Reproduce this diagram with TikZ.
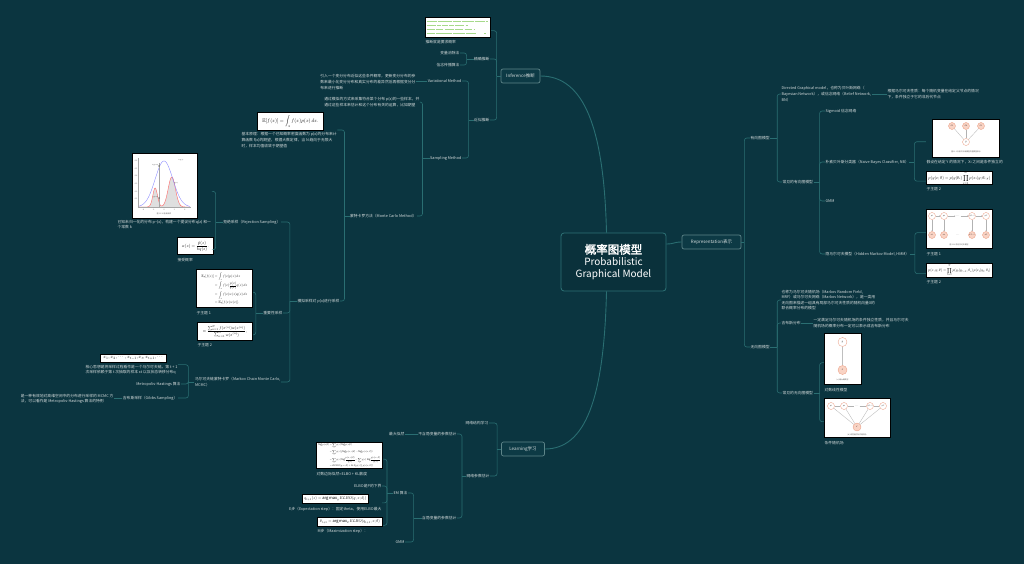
\documentclass[tikz,border=0pt]{standalone}
\usepackage{amsmath,amssymb}
\usepackage{graphicx}
\usepackage{fontspec}
\setmainfont{Noto Sans CJK SC}
\newfontfamily\rootfont{Noto Sans CJK SC}[FakeBold=2.2]
\XeTeXlinebreaklocale "zh"
\XeTeXlinebreakskip = 0pt plus 1pt
\usetikzlibrary{fit,arrows.meta}
\definecolor{bg}{HTML}{0B3540}
\definecolor{lnkc}{HTML}{2A6E72}
\definecolor{txt}{HTML}{D5DCDC}
\definecolor{brd}{HTML}{5E8589}
\definecolor{brfill}{HTML}{0D3A45}
\definecolor{rootbrd}{HTML}{2E7276}
\definecolor{rootfill}{HTML}{0A313B}
\definecolor{salm}{HTML}{E9967A}
\definecolor{salmf}{HTML}{F9D3C4}
\definecolor{codeg}{HTML}{A6D98A}
\tikzset{
 lbl/.style={text=txt, font=\fontsize{3.8pt}{5.6pt}\selectfont, inner sep=0.4pt},
 ml/.style={lbl, align=left},
 lnk/.style={draw=lnkc, line width=0.6pt},
 mainlnk/.style={draw=lnkc, line width=0.9pt},
 brbox/.style={draw=brd, fill=brfill, rounded corners=2pt, line width=0.7pt, text=txt,
   font=\fontsize{4.5pt}{5pt}\selectfont, minimum height=14pt, inner sep=1pt},
 rootbox/.style={draw=rootbrd, fill=rootfill, rounded corners=3pt, line width=0.8pt, text=white,
   align=center, minimum width=105pt, minimum height=58pt, inner sep=2pt},
 fbx/.style={draw=black, fill=white, line width=0.9pt, inner sep=0pt, anchor=north west},
 imgbx/.style={fbx},
 wrapbox/.style={inner sep=0pt},
 obs/.style={circle, draw=salm, fill=salmf, line width=0.3pt, inner sep=0pt, minimum size=7pt},
 hid/.style={obs, fill=white},
 edg/.style={draw=gray!60, line width=0.3pt},
 arr/.style={edg, -{Stealth[length=1.2pt,width=1pt]}},
 tinycap/.style={inner sep=0pt, text=gray!70!black, font=\fontsize{1.8pt}{2pt}\selectfont},
}
\newcommand\brL[3]{%
  \draw[lnk] (#1.west) -- ++(-#2,0) coordinate (#1-br);
  \foreach \ch in {#3}{\draw[lnk, rounded corners=2.5pt] (#1-br) |- (\ch.east);}}
\newcommand\brR[3]{%
  \draw[lnk] (#1.east) -- ++(#2,0) coordinate (#1-br);
  \foreach \ch in {#3}{\draw[lnk, rounded corners=2.5pt] (#1-br) |- (\ch.west);}}
\begin{document}
\begin{tikzpicture}[x=1pt,y=-1pt]
\useasboundingbox (0,0) rectangle (1024,564);
\fill[bg] (0,0) rectangle (1024,564);

% ---------- root and main branches
\node[rootbox] (root) at (613.5,262) {\fontsize{11.5pt}{15.5pt}\rootfont 概率图模型\\Probabilistic\\Graphical Model};
\node[brbox, minimum width=39pt] (inf) at (520.5,76) {Inference推断};
\node[brbox, minimum width=59pt] (repr) at (711.5,242) {Representation表示};
\node[brbox, minimum width=43pt] (learn) at (523,449) {Learning学习};
\draw[mainlnk] ([xshift=-7pt]root.north) .. controls (604,130) and (585,76) .. (inf.east);
\draw[mainlnk] ([yshift=18pt]root.east) .. controls (674,244) and (674,242) .. (repr.west);
\draw[mainlnk] ([xshift=-7pt]root.south) .. controls (604,400) and (585,449) .. (learn.east);

% ---------- Inference subtree
\node[imgbx, minimum width=65pt, minimum height=20pt] (infimg) at (425,17) {};
\begin{scope}[codeg, line width=0.8pt]
 \draw[dash pattern=on 10pt off 1pt on 14pt off 1.2pt on 8pt off 1pt on 12pt off 1pt] (426.5,21) -- (488,21);
 \draw[dash pattern=on 9pt off 1.5pt on 4pt off 1pt on 6pt off 1pt on 5pt off 1pt] (426.5,25.3) -- (468,25.3);
 \draw[dash pattern=on 8pt off 1.5pt on 7pt off 2pt on 9pt off 1pt] (426.5,29.3) -- (475,29.3);
 \draw[dash pattern=on 8pt off 1.5pt on 16pt off 1pt on 12pt off 1pt on 10pt] (426.5,33.3) -- (488,33.3);
\end{scope}
\node[lbl, anchor=west] (infcap) at (425,42) {推断就是要求概率};
\node[wrapbox, fit=(infimg)(infcap)] (infw) {};
\node[lbl, anchor=east] (exact) at (490,59) {精确推断};
\node[lbl, anchor=east] (approx) at (490,120) {近似推断};
\node[lbl, anchor=east] (ve) at (460,53) {变量消除法};
\node[lbl, anchor=east] (bp) at (460,65) {信念传播算法};
\node[lbl, anchor=east] (vm) at (462,81) {Variational Method};
\node[lbl, anchor=east] (sm) at (462,158) {Sampling Method};
\node[ml, anchor=east] (vmtext) at (416,82) {引入一个变分分布近似这些条件概率，更新变分分布的参\\数来最小化变分分布和真实分布的差异然后再根据变分分\\布来进行推断};
\node[ml, anchor=east] (smtext) at (420,102) {通过模拟的方式来采集符合某个分布 p(x)的一些样本，并\\通过这些样本来估计和这个分布有关的运算，比如期望};
\node[lbl, anchor=east] (mc) at (417,216) {蒙特卡罗方法（Monte Carlo Method）};
\node[fbx, minimum width=66pt, minimum height=18pt] (mcf) at (257,112) {\resizebox{56pt}{!}{$\mathbb{E}[f(x)] = \displaystyle\int_x f(x)p(x)\,dx.$}};
\node[ml, anchor=north west] (mctext) at (241,132) {基本原理：根据一个已知概率密度函数为 p(x)的分布来计\\算函数 f(x)的期望，根据大数定律，当 N 趋向于无限大\\时，样本均值收敛于期望值};
\node[wrapbox, fit=(mcf)(mctext)] (mcw) {};
\node[lbl, anchor=east] (mcs) at (340,301) {模拟采样对 p(x)进行采样};
\node[lbl, anchor=east] (rej) at (281,222) {拒绝采样（Rejection Sampling）};
\node[lbl, anchor=east] (imp) at (283,313) {重要性采样};
\node[ml, anchor=east] (mcmc) at (281,382) {马尔可夫链蒙特卡罗（Markov Chain Monte Carlo,\\MCMC）};

% rejection sampling figure
\node[imgbx, minimum width=65pt, minimum height=65pt] (rejimg) at (132,153) {};
\fill[gray!25] (138,207) -- plot[domain=-5:5, samples=80] ({164+5.2*\x}, {207-19*exp(-((\x+1.7)*(\x+1.7))/0.405)-30*exp(-((\x-1.5)*(\x-1.5))/0.98)}) -- (190,207) -- cycle;
\draw[red!60, line width=0.4pt] plot[domain=-5:5, samples=80] ({164+5.2*\x}, {207-19*exp(-((\x+1.7)*(\x+1.7))/0.405)-30*exp(-((\x-1.5)*(\x-1.5))/0.98)});
\draw[blue!45, line width=0.4pt] plot[domain=-5:5, samples=60] ({164+5.2*\x}, {207-46*exp(-(\x*\x)/5.78)});
\draw[gray!70, line width=0.2pt] (138,158) -- (138,207) -- (191,207);
\foreach \z in {-4,-2,0,2,4} {\node[tinycap] at ({164+5.2*\z},209.5) {\z};}
\foreach \k in {1,...,6} {\node[tinycap, anchor=east] at (137.5,{207-7.7*\k}) {0.\k};}
\draw[gray!70, line width=0.2pt] (159,163) -- (159,207);
\fill[black] (159,166) circle (0.6pt);
\fill[black] (159,198) circle (0.6pt);
\node[tinycap, anchor=east, text=black] at (158.5,165) {\scalebox{0.3}{$kq(z_0)$}};
\node[tinycap, anchor=east, text=black] at (158.5,197) {\scalebox{0.3}{$\tilde p(z_0)$}};
\node[tinycap, text=black] at (181,160) {\scalebox{0.3}{$kq(z)$}};
\node[tinycap, text=black] at (176,183) {\scalebox{0.3}{$\tilde p(z)$}};
\node[tinycap] at (164,214) {图 11.10 拒绝采样};
\node[ml, anchor=north west] (rejcap) at (117,219.5) {已知未归一化的分布 p\textasciitilde(x)，构建一个提议分布q(z) 和一\\个常数 k};
\node[wrapbox, fit=(rejimg)(rejcap)] (rejw) {};
\node[fbx, minimum width=36pt, minimum height=17pt] (rejf) at (177,237) {\resizebox{27pt}{!}{$\alpha(z) = \dfrac{\tilde p(z)}{kq(z)}.$}};
\node[lbl, anchor=west] (rejfcap) at (177,260) {接受概率};
\node[wrapbox, fit=(rejf)(rejfcap)] (rejfw) {};

% importance sampling
\node[fbx, minimum width=56pt, minimum height=38pt] (imp1) at (196,269) {\resizebox{46pt}{!}{$\begin{aligned}\mathbb{E}_p[f(x)] &= \int_z f(x)p(x)\,dx\\ &= \int_z f(x)\frac{p(x)}{q(x)}q(x)\,dx\\ &= \int_z f(x)w(x)q(x)\,dx\\ &= \mathbb{E}_q[f(x)w(x)].\end{aligned}$}};
\node[lbl, anchor=west] (imp1cap) at (196,313) {子主题 1};
\node[wrapbox, fit=(imp1)(imp1cap)] (imp1w) {};
\node[fbx, minimum width=55pt, minimum height=18pt] (imp2) at (197,322) {\resizebox{44pt}{!}{$\approx \dfrac{\sum_{n=1}^{N} f(x^{(n)})w(x^{(n)})}{\sum_{n=1}^{N} w(x^{(n)})},$}};
\node[lbl, anchor=west] (imp2cap) at (197,345.5) {子主题 2};
\node[wrapbox, fit=(imp2)(imp2cap)] (imp2w) {};

% MCMC
\node[fbx, minimum width=66pt, minimum height=8pt] (mhimg) at (100,354) {\resizebox{60pt}{!}{$x_1, x_2, \cdots, x_{t-1}, x_t, x_{t+1}, \cdots$}};
\node[ml, anchor=north west] (mhtext) at (85,364.5) {核心思想是将采样过程看作是一个马尔可夫链。第 t + 1\\次采样依赖于第 t 次抽取的样本 xt 以及状态转移分布q};
\node[wrapbox, fit=(mhimg)(mhtext)] (mhw) {};
\node[lbl, anchor=east] (mh) at (181,384) {Metropolis-Hastings 算法};
\node[lbl, anchor=east] (gibbs) at (178,398) {吉布斯采样（Gibbs Sampling）};
\node[ml, anchor=east] (gibbstext) at (114,399) {是一种有效地对高维空间中的分布进行采样的 MCMC 方\\法，可以看作是 Metropolis-Hastings 算法的特例};

\brL{inf}{4}{infw,exact,approx}
\brL{exact}{7}{ve,bp}
\brL{approx}{5}{vm,sm}
\draw[lnk] (vm.west) -- (vm.west -| vmtext.east);
\brL{sm}{7}{smtext,mc}
\brL{mc}{5}{mcw,mcs}
\brL{mcs}{7}{rej,imp,mcmc}
\brL{rej}{7}{rejw,rejfw}
\brL{imp}{7}{imp1w,imp2w}
\brL{mcmc}{6}{mhw,mh,gibbs}
\draw[lnk] (gibbs.west) -- (gibbs.west -| gibbstext.east);

% ---------- Learning subtree
\node[lbl, anchor=east] (nsl) at (489,423) {网络结构学习};
\node[lbl, anchor=east] (npe) at (490,476) {网络参数估计};
\node[lbl, anchor=east] (nolat) at (457,434) {不含隐变量的参数估计};
\node[lbl, anchor=east] (lat) at (457,518) {含隐变量的参数估计};
\node[lbl, anchor=east] (mle) at (405,434) {最大似然};
\node[lbl, anchor=east] (em) at (408,493) {EM 算法};
\node[lbl, anchor=east] (gmmb) at (405,542) {GMM};
\node[fbx, minimum width=66pt, minimum height=26pt] (elbo) at (316,442) {\resizebox{62pt}{!}{$\begin{aligned}\log p(x|\theta) &= \sum_z q(z)\log p(x|\theta)\\ &= \sum_z q(z)\big(\log p(x,z|\theta)-\log p(z|x,\theta)\big)\\ &= \sum_z q(z)\log\frac{p(x,z|\theta)}{q(z)} - \sum_z q(z)\log\frac{p(z|x,\theta)}{q(z)}\\ &= ELBO(q,x;\theta) + KL\big(q(z)\,\|\,p(z|x,\theta)\big)\end{aligned}$}};
\node[lbl, anchor=west] (elbocap) at (316,474) {对数边际似然=ELBO + KL散度};
\node[wrapbox, fit=(elbo)(elbocap)] (elbow) {};
\node[lbl, anchor=east] (elbolb) at (382,486) {ELBO是P的下界};
\node[fbx, minimum width=66pt, minimum height=9pt] (estep) at (302,494) {\resizebox{62pt}{!}{$q_{t+1}(z) = \arg\max_q ELBO(q, x; \theta_t)$}};
\node[lbl, anchor=east] (estepcap) at (382,509) {E步（Expectation step）：固定theta，使用ELBO最大};
\node[wrapbox, fit=(estep)(estepcap)] (estepw) {};
\node[fbx, minimum width=65pt, minimum height=9pt] (mstep) at (317,517) {\resizebox{60pt}{!}{$\theta_{t+1} = \arg\max_\theta ELBO(q_{t+1}, x; \theta)$}};
\node[lbl, anchor=west] (mstepcap) at (317,531) {M步（Maximization step）：};
\node[wrapbox, fit=(mstep)(mstepcap)] (mstepw) {};

\brL{learn}{4}{nsl,npe}
\brL{npe}{4}{nolat,lat}
\draw[lnk] (nolat.west) -- (mle.east);
\brL{lat}{8}{em,gmmb}
\brL{em}{6}{elbow,elbolb,estepw,mstepw}

% ---------- Representation subtree
\node[lbl, anchor=west] (dg) at (750,138) {有向图模型};
\node[lbl, anchor=west] (ug) at (750,347) {无向图模型};
\node[ml, anchor=west] (dgdef) at (781,94) {Directed Graphical model，也称为贝叶斯网络（\\Bayesian Network），或信念网络（Belief Network,\\BN）};
\node[ml, anchor=west] (dgchild) at (887,94) {根据马尔可夫性质：每个随机变量在给定父节点的情况\\下，条件独立于它的非后代节点};
\node[lbl, anchor=west] (dgc) at (782,182) {常见的有向图模型};
\node[lbl, anchor=west] (sig) at (825,111) {Sigmoid 信念网络};
\node[lbl, anchor=west] (nb) at (825,162) {朴素贝叶斯分类器（Naive Bayes Classifier, NB）};
\node[lbl, anchor=west] (gmm) at (825,201) {GMM};
\node[lbl, anchor=west] (hmm) at (825,254) {隐马尔可夫模型（Hidden Markov Model, HMM）};

% naive bayes figure
\node[imgbx, minimum width=67pt, minimum height=38pt] (nbimg) at (932,119) {};
\node[hid] (nby) at (966,142) {\scalebox{0.3}{$y$}};
\foreach \i/\xx in {1/952,2/966,3/981} {
  \node[obs] (nbx\i) at (\xx,126) {\scalebox{0.3}{$x_\i$}};
  \draw[edg] (nby) -- (nbx\i);
}
\node[tinycap] at (966,152) {图 11.1 朴素贝叶斯模型的图模型表示};
\node[lbl, anchor=west] (nbcap) at (926,162) {假设在给定 Y 的情况下，Xi 之间是条件独立的};
\node[wrapbox, fit=(nbimg)(nbcap)] (nbw) {};
\node[fbx, minimum width=66pt, minimum height=13pt] (nbf) at (926,171) {\resizebox{62pt}{!}{$p(y|x;\theta) = p(y|\theta_c)\displaystyle\prod_{i=1}^{D} p(x_i|y;\theta_{i,y})$}};
\node[lbl, anchor=west] (nbfcap) at (926,189) {子主题 2};
\node[wrapbox, fit=(nbf)(nbfcap)] (nbfw) {};

% HMM figure
\node[imgbx, minimum width=66pt, minimum height=39pt] (hmmimg) at (926,209) {};
\foreach \i/\xx/\l in {1/932/1, 2/944/2, 4/972/{T-1}, 5/986/T} {
  \node[hid] (hy\i) at (\xx,216) {\scalebox{0.25}{$y_{\l}$}};
  \node[obs] (hx\i) at (\xx,235) {\scalebox{0.25}{$x_{\l}$}};
  \draw[arr] (hy\i) -- (hx\i);
}
\node[inner sep=0.5pt] (hyd) at (958,216) {\scalebox{0.3}{$\cdots$}};
\node[inner sep=0.5pt] (hxd) at (958,235) {\scalebox{0.3}{$\cdots$}};
\draw[arr] (hy1) -- (hy2);
\draw[arr] (hy2) -- (hyd);
\draw[arr] (hyd) -- (hy4);
\draw[arr] (hy4) -- (hy5);
\node[tinycap] at (959,244.5) {图 11.4 隐马尔可夫模型};
\node[lbl, anchor=west] (hmmcap) at (926,254) {子主题 1};
\node[wrapbox, fit=(hmmimg)(hmmcap)] (hmmw) {};
\node[fbx, minimum width=66pt, minimum height=14pt] (hmmf) at (926,263) {\resizebox{62pt}{!}{$p(x, y;\theta) = \displaystyle\prod_{t=1}^{T} p(y_t|y_{t-1},\theta_s)\,p(x_t|y_t,\theta_t)$}};
\node[lbl, anchor=west] (hmmfcap) at (926,282) {子主题 2};
\node[wrapbox, fit=(hmmf)(hmmfcap)] (hmmfw) {};

% undirected
\node[ml, anchor=west] (ugdef) at (781,300) {也称为马尔可夫随机场（Markov Random Field,\\MRF）或马尔可夫网络（Markov Network），是一类用\\无向图来描述一组具有局部马尔可夫性质的随机向量X的\\联合概率分布的模型};
\node[lbl, anchor=west] (gibbsd) at (781,323) {吉布斯分布};
\node[ml, anchor=west] (gibbsdc) at (813,323) {一定满足马尔可夫随机场的条件独立性质，并且马尔可夫\\随机场的概率分布一定可以表示成吉布斯分布};
\node[lbl, anchor=west] (ugc) at (782,393) {常见的无向图模型};

% log-linear figure
\node[imgbx, minimum width=37pt, minimum height=51pt] (llimg) at (824,333) {};
\node[hid, minimum size=9pt] (lly) at (842.5,342) {\scalebox{0.3}{$y$}};
\node[obs, minimum size=9pt] (llx) at (842.5,370) {\scalebox{0.3}{$x$}};
\draw[draw=gray!50, line width=0.8pt] (lly) -- (llx);
\node[tinycap] at (842.5,379.5) {(a) 最大熵模型};
\node[lbl, anchor=west] (llcap) at (824,390) {对数线性模型};
\node[wrapbox, fit=(llimg)(llcap)] (llw) {};

% CRF figure
\node[imgbx, minimum width=66pt, minimum height=39pt] (crfimg) at (824,398) {};
\node[obs, minimum size=8pt] (crfx) at (857,427) {\scalebox{0.3}{$x$}};
\foreach \i/\xx/\l in {1/831/1, 2/844/2, 4/870/{T-1}, 5/883/T} {
  \node[hid] (cy\i) at (\xx,406) {\scalebox{0.25}{$y_{\l}$}};
  \draw[edg] (cy\i) -- (crfx);
}
\node[inner sep=0.5pt] (cyd) at (857,406) {\scalebox{0.3}{$\cdots$}};
\draw[edg] (cy1) -- (cy2);
\draw[edg] (cy2) -- (cyd);
\draw[edg] (cyd) -- (cy4);
\draw[edg] (cy4) -- (cy5);
\node[tinycap] at (857,434.5) {(b) 线性链的条件随机场};
\node[lbl, anchor=west] (crfcap) at (824,443) {条件随机场};
\node[wrapbox, fit=(crfimg)(crfcap)] (crfw) {};

\brR{repr}{3}{dg,ug}
\brR{dg}{7}{dgdef,dgc}
\draw[lnk] (dgdef.east) -- (dgdef.east -| dgchild.west);
\brR{dgc}{6}{sig,nb,gmm,hmm}
\brR{nb}{5}{nbw,nbfw}
\brR{hmm}{5}{hmmw,hmmfw}
\brR{ug}{7}{ugdef,gibbsd,ugc}
\draw[lnk] (gibbsd.east) -- (gibbsd.east -| gibbsdc.west);
\brR{ugc}{6}{llw,crfw}
\end{tikzpicture}
\end{document}
